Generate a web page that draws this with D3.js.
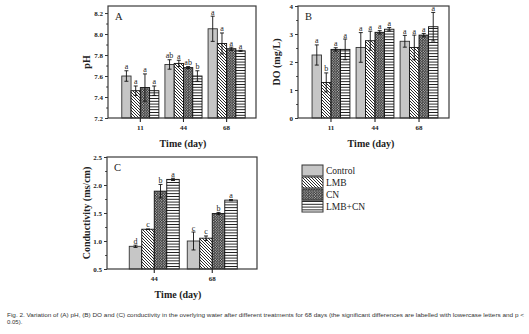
<!DOCTYPE html>
<html>
<head>
<meta charset="utf-8">
<script src="https://cdn.jsdelivr.net/npm/d3@7"></script>
<style>
  html, body { margin: 0; padding: 0; background: #fff; }
  svg { display: block; opacity: 0.999; }
  .tick text { font-family: "Liberation Serif", serif; font-weight: bold; font-size: 7px; fill: #222; }
</style>
</head>
<body>
<svg id="chart" width="529" height="334"></svg>
<script>
// data
const treatments = ['Control', 'LMB', 'CN', 'LMB+CN']
const daysAB = ['11', '44', '68']
const daysC = ['44', '68']

const phMean = [[7.60, 7.46, 7.49, 7.46], [7.71, 7.72, 7.68, 7.60], [8.05, 7.91, 7.86, 7.84]]
const phErr = [[0.05, 0.045, 0.13, 0.045], [0.045, 0.03, 0.01, 0.05], [0.12, 0.10, 0.015, 0.005]]
const phLetters = [['a', 'a', 'a', 'a'], ['ab', 'a', 'ab', 'b'], ['a', 'a', 'a', 'a']]

const doMean = [[2.25, 1.27, 2.45, 2.45], [2.52, 2.76, 3.06, 3.17], [2.74, 2.52, 2.96, 3.26]]
const doErr = [[0.36, 0.34, 0.06, 0.37], [0.53, 0.34, 0.06, 0.06], [0.21, 0.44, 0.06, 0.51]]
const doLetters = [['a', 'b', 'a', 'a'], ['a', 'a', 'a', 'a'], ['a', 'a', 'a', 'a']]

const condMean = [[0.905, 1.21, 1.89, 2.10], [1.00, 1.05, 1.49, 1.73]]
const condErr = [[0.02, 0.005, 0.12, 0.02], [0.16, 0.04, 0.02, 0.01]]
const condLetters = [['d', 'c', 'b', 'a'], ['c', 'c', 'b', 'a']]

const svg = d3.select('#chart')
const serif = '"Liberation Serif", "DejaVu Serif", serif'

svg.append('rect').attr('width', 529).attr('height', 334).attr('fill', '#fff')

// hatch patterns
const defs = svg.append('defs')
const fills = {
  'Control': '#c6c6c6',
  'LMB': 'url(#pat-diag)',
  'CN': 'url(#pat-check)',
  'LMB+CN': 'url(#pat-horiz)',
}
const diag = defs.append('pattern').attr('id', 'pat-diag')
  .attr('patternUnits', 'userSpaceOnUse').attr('width', 3).attr('height', 3)
diag.append('rect').attr('width', 3).attr('height', 3).attr('fill', '#fff')
diag.append('path').attr('d', 'M-1,-1L4,4M-1,2L1,4M2,-1L4,1')
  .attr('stroke', '#111').attr('stroke-width', 0.9)

const check = defs.append('pattern').attr('id', 'pat-check')
  .attr('patternUnits', 'userSpaceOnUse').attr('width', 2.6).attr('height', 2.6)
check.append('rect').attr('width', 2.6).attr('height', 2.6).attr('fill', '#262626')
check.append('circle').attr('cx', 0.65).attr('cy', 0.65).attr('r', 0.55).attr('fill', '#fff')
check.append('circle').attr('cx', 1.95).attr('cy', 1.95).attr('r', 0.55).attr('fill', '#fff')

const horiz = defs.append('pattern').attr('id', 'pat-horiz')
  .attr('patternUnits', 'userSpaceOnUse').attr('width', 3).attr('height', 2.8)
horiz.append('rect').attr('width', 3).attr('height', 2.8).attr('fill', '#fff')
horiz.append('rect').attr('y', 0).attr('width', 3).attr('height', 0.9).attr('fill', '#111')

function drawPanel(cfg) {
  const { left, right, top, bottom } = cfg
  const g = svg.append('g')

  const x0 = d3.scaleBand().domain(cfg.days).range([left, right])
    .paddingInner(cfg.padInner).paddingOuter(cfg.padOuter).align(cfg.align)
  const x1 = d3.scaleBand().domain(treatments).range([0, x0.bandwidth()])
  const y = d3.scaleLinear().domain(cfg.yDomain).range([bottom, top])

  const rows = []
  cfg.days.forEach((day, i) => {
    treatments.forEach((t, j) => {
      rows.push({ day, t, v: cfg.mean[i][j], e: cfg.err[i][j], l: cfg.letters[i][j] })
    })
  })

  // bars
  g.selectAll('.bar').data(rows).join('rect')
    .attr('class', 'bar')
    .attr('x', d => x0(d.day) + x1(d.t))
    .attr('y', d => y(d.v))
    .attr('width', x1.bandwidth())
    .attr('height', d => bottom - y(d.v))
    .attr('fill', d => fills[d.t])
    .attr('stroke', d => d.t === 'Control' ? '#333' : '#111')
    .attr('stroke-width', 0.9)

  // error bars
  const cx = d => x0(d.day) + x1(d.t) + x1.bandwidth() / 2
  const eb = g.selectAll('.err').data(rows).join('g').attr('class', 'err')
    .attr('stroke', '#111').attr('stroke-width', 0.9)
  eb.append('line')
    .attr('x1', cx).attr('x2', cx)
    .attr('y1', d => y(d.v + d.e)).attr('y2', d => y(Math.max(d.v - d.e, cfg.yDomain[0])))
  eb.append('line')
    .attr('x1', d => cx(d) - 2).attr('x2', d => cx(d) + 2)
    .attr('y1', d => y(d.v + d.e)).attr('y2', d => y(d.v + d.e))
  eb.filter(d => d.v - d.e > cfg.yDomain[0]).append('line')
    .attr('x1', d => cx(d) - 2).attr('x2', d => cx(d) + 2)
    .attr('y1', d => y(d.v - d.e)).attr('y2', d => y(d.v - d.e))

  // significance letters
  g.selectAll('.letter').data(rows).join('text')
    .attr('class', 'letter')
    .attr('x', cx)
    .attr('y', d => y(d.v + d.e) - 1.5)
    .attr('text-anchor', 'middle')
    .style('font-family', serif)
    .style('font-size', '8px')
    .attr('fill', '#1a1a1a')
    .text(d => d.l)

  // frame
  g.append('rect')
    .attr('x', left).attr('y', top)
    .attr('width', right - left).attr('height', bottom - top)
    .attr('fill', 'none').attr('stroke', '#3a3a3a').attr('stroke-width', 1.2)

  // axes
  const yAxis = g.append('g').attr('transform', `translate(${left},0)`)
    .call(d3.axisLeft(y).tickValues(cfg.yTicks).tickFormat(cfg.fmt).tickSize(3).tickSizeOuter(0).tickPadding(2))
  yAxis.select('.domain').remove()
  yAxis.selectAll('.tick line').attr('stroke', '#333')
  const yMinor = g.append('g').attr('transform', `translate(${left},0)`)
    .call(d3.axisLeft(y).tickValues(cfg.yMinor).tickFormat('').tickSize(1.8).tickSizeOuter(0))
  yMinor.select('.domain').remove()
  yMinor.selectAll('.tick line').attr('stroke', '#333')

  const xAxis = g.append('g').attr('transform', `translate(0,${bottom})`)
    .call(d3.axisBottom(x0).tickSize(4).tickSizeOuter(0).tickPadding(3))
  xAxis.select('.domain').remove()
  xAxis.selectAll('.tick line').attr('stroke', '#222').attr('stroke-width', 1.1)

  // titles
  svg.append('text')
    .attr('x', cfg.xTitleX).attr('y', bottom + 29)
    .attr('text-anchor', 'middle')
    .style('font-family', serif).style('font-weight', 'bold').style('font-size', '10px')
    .attr('fill', '#222')
    .text('Time (day)')
  svg.append('text')
    .attr('transform', `translate(${cfg.yTitleX},${(top + bottom) / 2}) rotate(-90)`)
    .attr('text-anchor', 'middle')
    .style('font-family', serif).style('font-weight', 'bold').style('font-size', '10px')
    .attr('fill', '#222')
    .text(cfg.yTitle)
  svg.append('text')
    .attr('x', left + 7).attr('y', top + 14)
    .style('font-family', serif).style('font-size', '10.5px')
    .attr('fill', '#222')
    .text(cfg.tag)
}

const abLayout = { padInner: 0.14, padOuter: 0.285, align: 0.56 }

drawPanel({
  ...abLayout, tag: 'A', left: 108, right: 256, top: 6, bottom: 118,
  days: daysAB, mean: phMean, err: phErr, letters: phLetters,
  yDomain: [7.2, 8.267], yTicks: [7.2, 7.4, 7.6, 7.8, 8.0, 8.2],
  yMinor: [7.3, 7.5, 7.7, 7.9, 8.1], fmt: d3.format('.1f'),
  yTitle: 'pH', yTitleX: 90, xTitleX: 183,
})

drawPanel({
  ...abLayout, tag: 'B', left: 298, right: 449, top: 6, bottom: 118,
  days: daysAB, mean: doMean, err: doErr, letters: doLetters,
  yDomain: [0, 4], yTicks: [0, 1, 2, 3, 4],
  yMinor: [0.5, 1.5, 2.5, 3.5], fmt: d3.format('d'),
  yTitle: 'DO (mg/L)', yTitleX: 280, xTitleX: 371,
})

drawPanel({
  tag: 'C', left: 107, right: 257, top: 157, bottom: 269,
  padInner: 0.138, padOuter: 0.362, align: 0.53,
  days: daysC, mean: condMean, err: condErr, letters: condLetters,
  yDomain: [0.5, 2.5], yTicks: [0.5, 1.0, 1.5, 2.0, 2.5],
  yMinor: [0.75, 1.25, 1.75, 2.25], fmt: d3.format('.1f'),
  yTitle: 'Conductivity  (ms/cm)', yTitleX: 90, xTitleX: 178,
})

// legend
const legend = svg.append('g').attr('transform', 'translate(302,165)')
const item = legend.selectAll('g').data(treatments).join('g')
  .attr('transform', (d, i) => `translate(0,${i * 12})`)
item.append('rect')
  .attr('width', 21).attr('height', 11)
  .attr('fill', d => fills[d])
  .attr('stroke', '#333').attr('stroke-width', 1)
item.append('text')
  .attr('x', 24).attr('y', 9)
  .style('font-family', serif).style('font-size', '9.5px')
  .attr('fill', '#222')
  .text(d => d)

// caption
const caption = svg.append('g')
  .style('font-family', '"Liberation Sans", sans-serif').style('font-size', '6px')
  .attr('fill', '#333')
caption.append('text').attr('x', 7).attr('y', 317)
  .attr('textLength', 517).attr('lengthAdjust', 'spacingAndGlyphs')
  .text('Fig. 2. Variation of (A) pH, (B) DO and (C) conductivity in the overlying water after different treatments for 68 days (the significant differences are labelled with lowercase letters and p <')
caption.append('text').attr('x', 7).attr('y', 323.5)
  .text('0.05).')
</script>
</body>
</html>
